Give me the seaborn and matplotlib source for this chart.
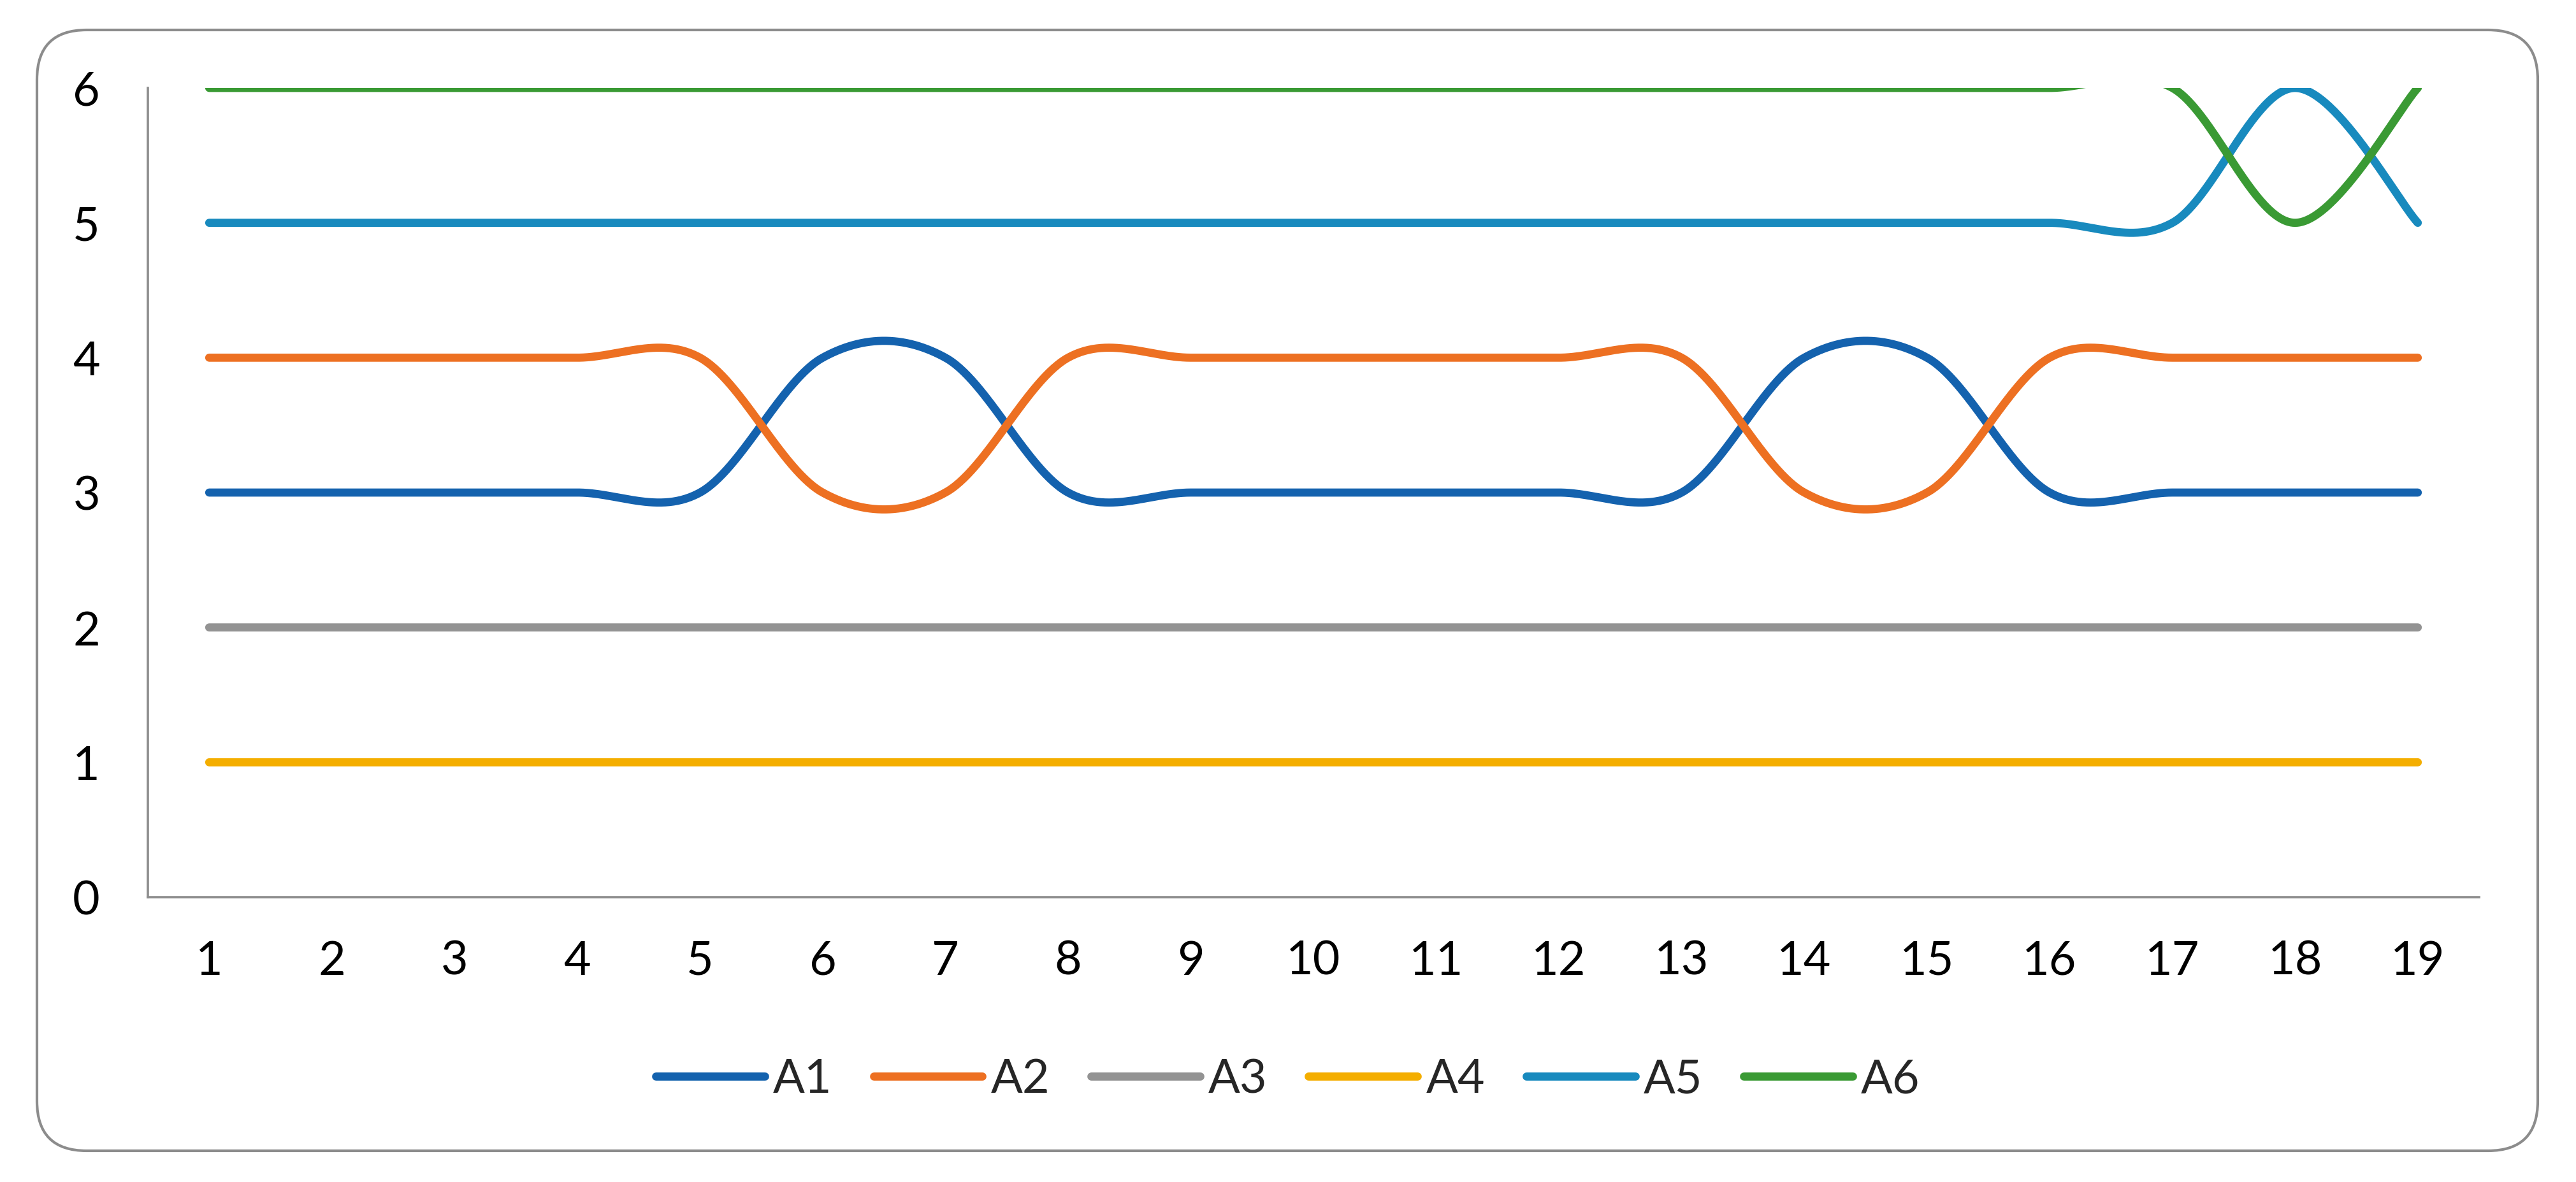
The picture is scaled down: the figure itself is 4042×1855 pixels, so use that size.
import numpy as np
import pandas as pd
import matplotlib
matplotlib.use("Agg")
import matplotlib.pyplot as plt
from matplotlib.patches import FancyBboxPatch
from matplotlib.lines import Line2D
import seaborn as sns

# ---- data ----
categories = list(range(1, 20))
A1 = [3, 3, 3, 3, 3, 4, 4, 3, 3, 3, 3, 3, 3, 4, 4, 3, 3, 3, 3]
A2 = [4, 4, 4, 4, 4, 3, 3, 4, 4, 4, 4, 4, 4, 3, 3, 4, 4, 4, 4]
A3 = [2] * 19
A4 = [1] * 19
A5 = [5, 5, 5, 5, 5, 5, 5, 5, 5, 5, 5, 5, 5, 5, 5, 5, 5, 6, 5]
A6 = [6, 6, 6, 6, 6, 6, 6, 6, 6, 6, 6, 6, 6, 6, 6, 6, 6, 5, 6]
series_names = ["A1", "A2", "A3", "A4", "A5", "A6"]
series_values = [A1, A2, A3, A4, A5, A6]
colors = ["#1462AE", "#ED7022", "#939393", "#F4AE00", "#188ABE", "#3A9A34"]
y_ticks = [0, 1, 2, 3, 4, 5, 6]


def smooth(xs, ys, n=60):
    """Excel-like smoothed line (Catmull-Rom / Bezier with 1/6 control offsets)."""
    xs = np.asarray(xs, float)
    ys = np.asarray(ys, float)
    px = np.concatenate([[xs[0]], xs, [xs[-1]]])
    py = np.concatenate([[ys[0]], ys, [ys[-1]]])
    ox, oy = [], []
    for i in range(len(xs) - 1):
        p0 = np.array([xs[i], ys[i]])
        p3 = np.array([xs[i + 1], ys[i + 1]])
        pm = np.array([px[i], py[i]])
        pp = np.array([px[i + 3], py[i + 3]])
        c1 = p0 + (p3 - pm) / 6.0
        c2 = p3 - (pp - p0) / 6.0
        t = np.linspace(0, 1, n, endpoint=(i == len(xs) - 2))[:, None]
        pts = ((1 - t) ** 3) * p0 + 3 * ((1 - t) ** 2) * t * c1 + 3 * (1 - t) * t ** 2 * c2 + t ** 3 * p3
        ox.extend(pts[:, 0])
        oy.extend(pts[:, 1])
    return np.array(ox), np.array(oy)


frames = []
for name, vals in zip(series_names, series_values):
    sx, sy = smooth(categories, vals)
    frames.append(pd.DataFrame({"x": sx, "y": sy, "series": name}))
df = pd.concat(frames, ignore_index=True)

sns.set_theme(style="white")
plt.rcParams["font.family"] = ["Lato", "DejaVu Sans"]

DPI = 200
W, H = 4042, 1856
fig = plt.figure(figsize=(W / DPI, H / DPI), dpi=DPI)
fig.patch.set_facecolor("white")

# rounded outer border
x0, x1 = 58 / DPI, 3982 / DPI
yb, yt = (H - 1807) / DPI, (H - 48) / DPI
border = FancyBboxPatch((x0, yb), x1 - x0, yt - yb,
                        boxstyle="round,pad=0,rounding_size=0.39",
                        transform=fig.dpi_scale_trans, facecolor="none",
                        edgecolor="#8C8C8C", linewidth=1.5, zorder=-5)
fig.patches.append(border)

left, right, top, bottom = 232, 3890, 139, 1409
ax = fig.add_axes([left / W, 1 - bottom / H, (right - left) / W, (bottom - top) / H])
ax.set_facecolor("none")

palette = dict(zip(series_names, colors))
LW = 4.6
sns.lineplot(data=df, x="x", y="y", hue="series", palette=palette, sort=False,
             estimator=None, linewidth=LW, legend=False, ax=ax)
for ln in ax.get_lines():
    ln.set_solid_capstyle("round")
    ln.set_solid_joinstyle("round")

ax.set_xlim(0.5, 19.5)
ax.set_ylim(0, 6)
ax.set_xticks(categories)
ax.set_xticklabels([str(c) for c in categories])
ax.set_yticks(y_ticks)
ax.set_yticklabels([str(v) for v in y_ticks])
ax.set_xlabel("")
ax.set_ylabel("")
ax.grid(False)

for s in ["top", "right"]:
    ax.spines[s].set_visible(False)
for s in ["left", "bottom"]:
    ax.spines[s].set_color("#8C8C8C")
    ax.spines[s].set_linewidth(1.3)

FS = 26.5
ax.tick_params(axis="both", length=0, labelsize=FS, colors="black")
ax.tick_params(axis="x", pad=24)
ax.tick_params(axis="y", pad=27)

handles = [Line2D([0], [0], color=c, linewidth=LW, solid_capstyle="round") for c in colors]
fig.legend(handles, series_names, loc="center", bbox_to_anchor=(0.5, 1 - 1695 / H),
           ncol=6, frameon=False, fontsize=FS, handlelength=2.32, handletextpad=0.18,
           columnspacing=0.88)

fig.savefig("out.png", dpi=DPI, facecolor="white")
